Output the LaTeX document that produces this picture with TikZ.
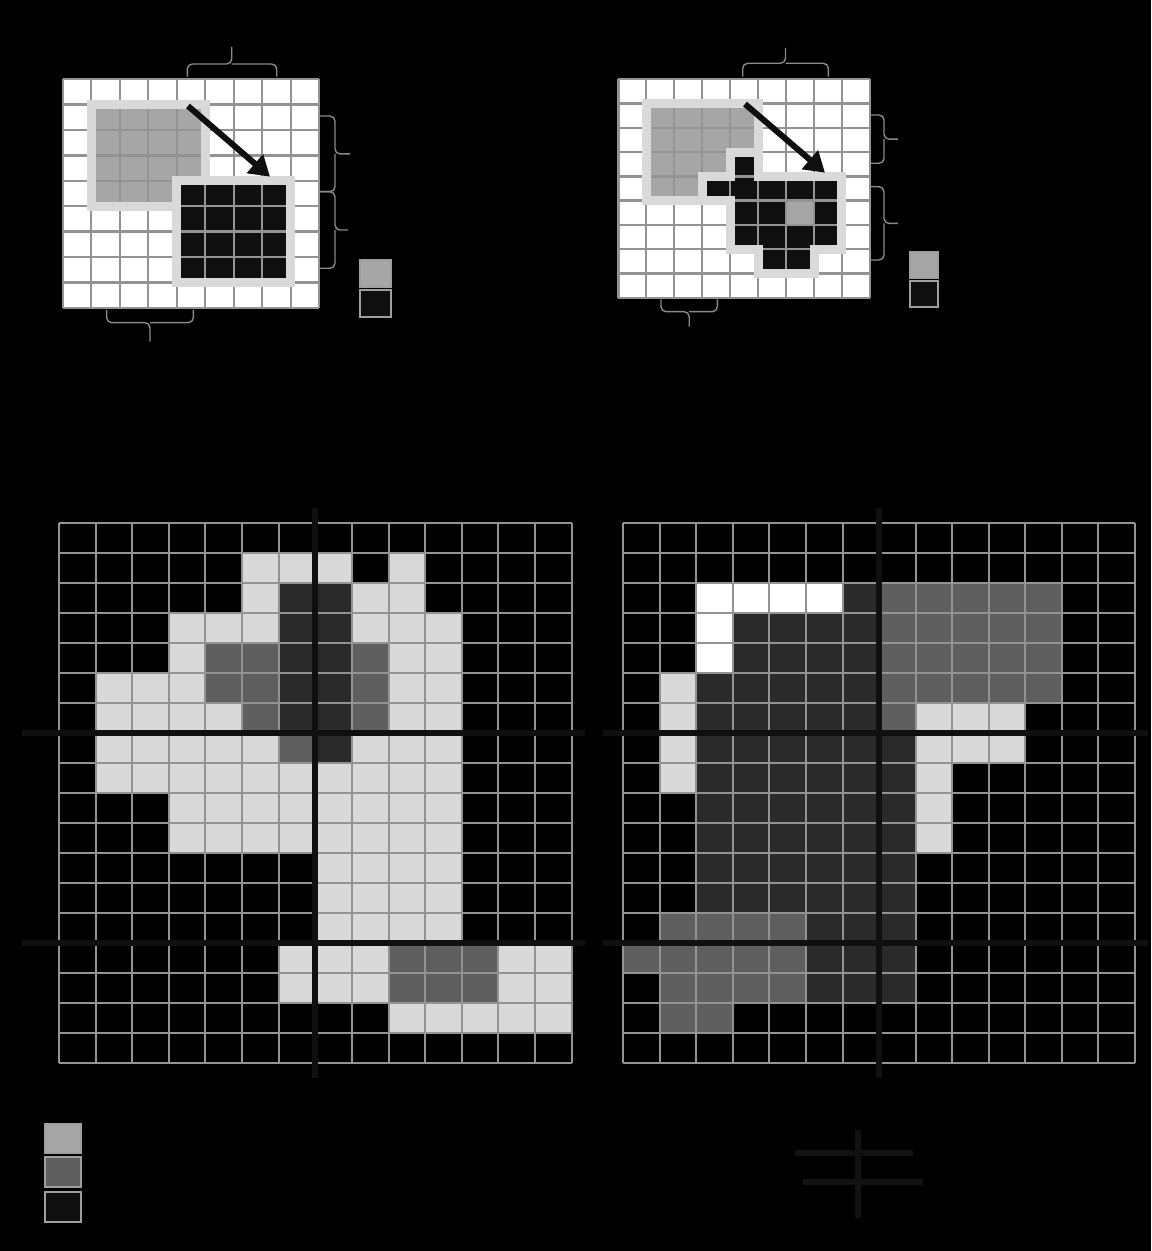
\documentclass[tikz,border=0pt]{standalone}
\usepackage{tikz}
\usetikzlibrary{arrows.meta}

\definecolor{lightcell}{HTML}{D9D9D9}
\definecolor{midcell}{HTML}{5F5F5F}
\definecolor{darkcell}{HTML}{2A2A2A}
\definecolor{graycell}{HTML}{A6A6A6}
\definecolor{blackcell}{HTML}{0F0F0F}
\definecolor{gridline}{HTML}{939393}
\definecolor{axisline}{HTML}{101010}
\definecolor{bracecol}{HTML}{8A8A8A}

\begin{document}
\begin{tikzpicture}[x=0.5pt, y=-0.5pt,
    gridlines/.style={draw=gridline, line width=1.2pt},
    cellframe/.style={draw=lightcell, line width=4.5pt},
    movearrow/.style={draw=blackcell, line width=3pt, -{Triangle[length=10pt,width=12pt]}},
    bracket/.style={draw=bracecol, line width=0.7pt, rounded corners=2.5pt},
    legbox/.style={draw=gray!75, line width=1pt},
    axisbar/.style={draw=axisline, line width=3pt}]

    \useasboundingbox (0,0) rectangle (1151,1251);
    \fill[black] (0,0) rectangle (1151,1251);

    % Block move (Top Left)
    \begin{scope}[shift={(62.7,79.3)}, x=14.25pt, y=-12.69pt]
        \fill[white] (0,0) rectangle (9,9);
        \fill[graycell] (1,1) rectangle (5,5);
        \foreach \i in {0,...,9} {
            \draw[gridlines] (\i,0) -- (\i,9);
            \draw[gridlines] (0,\i) -- (9,\i);
        }
        \draw[cellframe] (1,1) rectangle (5,5);
        \fill[blackcell] (4,4) rectangle (8,8);
        \foreach \i in {4,...,8} {
            \draw[gridlines] (\i,4) -- (\i,8);
            \draw[gridlines] (4,\i) -- (8,\i);
        }
        \draw[cellframe] (4,4) rectangle (8,8);
    \end{scope}
    \coordinate (tlfrom) at (188,106);
    \coordinate (tlto) at (270,176.7);
    \draw[movearrow] (tlfrom) -- (tlto);
    \draw[bracket] (187.3,76.7) |- (231.7,64) -- ++(0,-17) (231.7,64) -| (276.7,76.7);
    \draw[bracket] (320,116) -| (335,153.9) -- ++(15,0) (335,153.9) |- (320,191.7);
    \draw[bracket] (320,191.7) -| (335,230) -- ++(13,0) (335,230) |- (320,268.3);
    \draw[bracket] (106.7,310) |- (150,322.7) -- ++(0,19) (150,322.7) -| (193.3,310);
    \fill[graycell, legbox] (360,260) rectangle (390.7,287.3);
    \fill[blackcell, legbox] (360,290) rectangle (390.7,317.3);

    % Shape move (Top Right)
    \begin{scope}[shift={(618.3,79.3)}, x=13.98pt, y=-12.14pt]
        \fill[white] (0,0) rectangle (9,9);
        \fill[graycell] (1,1) rectangle (5,5);
        \foreach \i in {0,...,9} {
            \draw[gridlines] (\i,0) -- (\i,9);
            \draw[gridlines] (0,\i) -- (9,\i);
        }
        \draw[cellframe] (1,1) rectangle (5,5);
        \begin{scope}
            \clip (4,3) -- (5,3) -- (5,4) -- (8,4) -- (8,7) -- (7,7) -- (7,8) -- (5,8)
                -- (5,7) -- (4,7) -- (4,5) -- (3,5) -- (3,4) -- (4,4) -- cycle;
            \fill[blackcell] (3,3) rectangle (8,8);
            \fill[graycell] (6,5) rectangle (7,6);
            \foreach \i in {3,...,8} {
                \draw[gridlines] (\i,3) -- (\i,8);
                \draw[gridlines] (3,\i) -- (8,\i);
            }
        \end{scope}
        \draw[cellframe] (4,3) -- (5,3) -- (5,4) -- (8,4) -- (8,7) -- (7,7) -- (7,8) -- (5,8)
            -- (5,7) -- (4,7) -- (4,5) -- (3,5) -- (3,4) -- (4,4) -- cycle;
    \end{scope}
    \coordinate (trfrom) at (745,104);
    \coordinate (trto) at (825,172.7);
    \draw[movearrow] (trfrom) -- (trto);
    \draw[bracket] (742.7,76.7) |- (785.5,63.3) -- ++(0,-15.3) (785.5,63.3) -| (828.3,76.7);
    \draw[bracket] (870,115) -| (884,139.2) -- ++(14,0) (884,139.2) |- (870,163.3);
    \draw[bracket] (870,186.7) -| (884,223.4) -- ++(14,0) (884,223.4) |- (870,260);
    \draw[bracket] (661,299.3) |- (689.2,311.7) -- ++(0,15) (689.2,311.7) -| (717.3,299.3);
    \fill[graycell, legbox] (910,251.7) rectangle (938.3,278.3);
    \fill[blackcell, legbox] (910,280.7) rectangle (938.3,307.3);

    % Map (Bottom Left)
    \begin{scope}[shift={(59,523.3)}, x=18.31pt, y=-15pt]
        \foreach \a/\b/\c/\d in {5/1/8/2, 9/1/10/2, 5/2/6/3, 8/2/10/3, 3/3/6/4, 8/3/11/4,
            3/4/4/5, 9/4/11/7, 1/5/4/6, 1/6/5/7, 1/7/6/8, 8/7/11/8, 1/8/11/9,
            3/9/11/11, 7/11/11/14, 6/14/9/16, 12/14/14/16, 9/16/14/17}
            \fill[lightcell] (\a,\b) rectangle (\c,\d);
        \foreach \a/\b/\c/\d in {4/4/6/6, 5/6/6/7, 6/7/7/8, 8/4/9/7, 9/14/12/16}
            \fill[midcell] (\a,\b) rectangle (\c,\d);
        \foreach \a/\b/\c/\d in {6/2/8/7, 7/7/8/8}
            \fill[darkcell] (\a,\b) rectangle (\c,\d);
        \foreach \i in {0,...,14} \draw[gridlines, line width=1pt] (\i,0) -- (\i,18);
        \foreach \j in {0,...,18} \draw[gridlines, line width=1pt] (0,\j) -- (14,\j);
        \draw[axisbar] (7,-0.5) -- (7,18.5);
        \draw[axisbar] (-1,7) -- (14.36,7);
        \draw[axisbar] (-1,14) -- (14.36,14);
    \end{scope}

    % Map (Bottom Right)
    \begin{scope}[shift={(623.3,523.3)}, x=18.27pt, y=-15pt]
        \foreach \a/\b/\c/\d in {2/2/6/3, 2/3/3/5}
            \fill[white] (\a,\b) rectangle (\c,\d);
        \foreach \a/\b/\c/\d in {6/2/7/3, 3/3/7/5, 2/5/7/13, 7/7/8/16, 5/13/7/16}
            \fill[darkcell] (\a,\b) rectangle (\c,\d);
        \foreach \a/\b/\c/\d in {7/2/12/6, 7/6/8/7, 1/13/5/14, 0/14/5/15, 1/15/5/16, 1/16/3/17}
            \fill[midcell] (\a,\b) rectangle (\c,\d);
        \foreach \a/\b/\c/\d in {1/5/2/9, 8/6/11/8, 8/8/9/11}
            \fill[lightcell] (\a,\b) rectangle (\c,\d);
        \foreach \i in {0,...,14} \draw[gridlines, line width=1pt] (\i,0) -- (\i,18);
        \foreach \j in {0,...,18} \draw[gridlines, line width=1pt] (0,\j) -- (14,\j);
        \draw[axisbar] (7,-0.5) -- (7,18.5);
        \draw[axisbar] (-0.56,7) -- (14.36,7);
        \draw[axisbar] (-0.56,14) -- (14.36,14);
    \end{scope}

    % Legend (Bottom)
    \fill[graycell, legbox] (45,1123.5) rectangle (81,1153);
    \fill[midcell, legbox] (45,1157) rectangle (81,1186.5);
    \fill[blackcell, legbox] (45,1191.5) rectangle (81,1221.5);
    \draw[axisbar, draw=black!93] (858,1130) -- (858,1218);
    \draw[axisbar, draw=black!93] (795,1153) -- (913,1153);
    \draw[axisbar, draw=black!93] (803,1182) -- (923,1182);
\end{tikzpicture}
\end{document}
